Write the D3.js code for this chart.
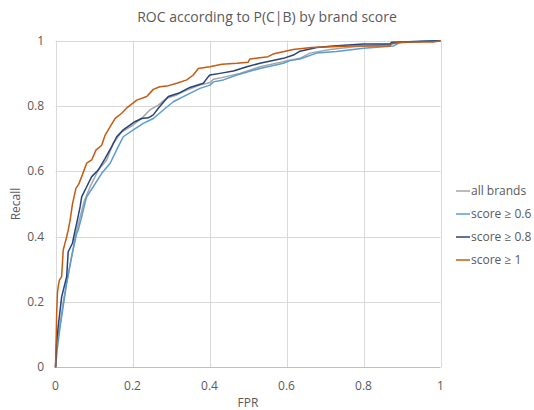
<!DOCTYPE html>
<html><head><meta charset="utf-8">
<script src="https://cdn.jsdelivr.net/npm/d3@7"></script>
<style>body{margin:0;background:#fff;} text{font-family:"Open Sans","Liberation Sans",sans-serif;}</style>
</head><body><svg id="c" width="534" height="410"></svg>
<script>
const seriesNames = ["all brands", "score \u2265 0.6", "score \u2265 0.8", "score \u2265 1"];
const seriesColors = ["#a5a5a5", "#5b9bd5", "#264478", "#c55a11"];
const xTicks = [0, 0.2, 0.4, 0.6, 0.8, 1];
const yTicks = [0, 0.2, 0.4, 0.6, 0.8, 1];
const allBrands = [[0,0],[0.004,0.08],[0.012,0.13],[0.02,0.2],[0.029,0.26],[0.042,0.34],[0.053,0.41],[0.066,0.47],[0.075,0.51],[0.09,0.553],[0.111,0.604],[0.133,0.635],[0.15,0.686],[0.172,0.721],[0.202,0.742],[0.228,0.767],[0.245,0.788],[0.267,0.803],[0.289,0.824],[0.315,0.834],[0.341,0.849],[0.375,0.864],[0.401,0.872],[0.41,0.882],[0.432,0.887],[0.479,0.9],[0.531,0.92],[0.592,0.936],[0.635,0.946],[0.661,0.962],[0.713,0.973],[0.782,0.982],[0.869,0.989],[0.895,0.996],[1,1]];
const score06 = [[0,0],[0.005,0.06],[0.012,0.125],[0.029,0.257],[0.042,0.339],[0.055,0.41],[0.059,0.42],[0.068,0.461],[0.077,0.505],[0.081,0.522],[0.098,0.553],[0.12,0.594],[0.142,0.625],[0.163,0.676],[0.176,0.706],[0.202,0.727],[0.228,0.747],[0.254,0.762],[0.28,0.788],[0.306,0.813],[0.341,0.834],[0.375,0.854],[0.401,0.864],[0.41,0.874],[0.436,0.88],[0.471,0.895],[0.531,0.915],[0.592,0.931],[0.609,0.939],[0.635,0.944],[0.678,0.962],[0.73,0.967],[0.8,0.977],[0.878,0.984],[0.895,0.994],[0.98,1],[1,1]];
const score08 = [[0,0],[0.003,0.08],[0.007,0.125],[0.016,0.216],[0.029,0.278],[0.033,0.354],[0.044,0.38],[0.051,0.42],[0.055,0.441],[0.064,0.492],[0.068,0.522],[0.081,0.553],[0.094,0.584],[0.111,0.604],[0.129,0.64],[0.146,0.676],[0.159,0.706],[0.176,0.727],[0.206,0.752],[0.224,0.762],[0.241,0.764],[0.254,0.773],[0.267,0.793],[0.293,0.829],[0.319,0.839],[0.349,0.857],[0.384,0.87],[0.397,0.89],[0.401,0.895],[0.427,0.9],[0.462,0.907],[0.497,0.92],[0.531,0.931],[0.592,0.946],[0.618,0.956],[0.635,0.968],[0.678,0.979],[0.722,0.984],[0.8,0.99],[0.869,0.99],[0.873,0.995],[1,1]];
const score1 = [[0,0],[0.002,0.1],[0.003,0.165],[0.005,0.227],[0.007,0.247],[0.01,0.267],[0.016,0.278],[0.02,0.359],[0.029,0.4],[0.033,0.42],[0.038,0.451],[0.044,0.5],[0.053,0.548],[0.06,0.56],[0.068,0.584],[0.081,0.625],[0.094,0.635],[0.105,0.665],[0.12,0.68],[0.129,0.711],[0.142,0.737],[0.155,0.762],[0.172,0.778],[0.187,0.796],[0.211,0.818],[0.237,0.829],[0.254,0.851],[0.271,0.859],[0.289,0.861],[0.315,0.87],[0.341,0.88],[0.358,0.895],[0.371,0.915],[0.401,0.92],[0.432,0.928],[0.471,0.931],[0.5,0.934],[0.505,0.944],[0.552,0.951],[0.565,0.959],[0.591,0.966],[0.617,0.973],[0.665,0.979],[0.769,0.984],[0.869,0.984],[0.873,0.991],[0.903,0.996],[0.981,0.996],[1,1]];
const seriesData = [allBrands, score06, score08, score1];

const svg = d3.select("#c");
const x = d3.scaleLinear().domain([0,1]).range([55.5,440.5]);
const y = d3.scaleLinear().domain([0,1]).range([367.4,40.7]);
const txt = "#595959";

svg.append("g").selectAll("line.v").data(xTicks).join("line")
  .attr("x1",d=>Math.round(x(d))+0.5).attr("x2",d=>Math.round(x(d))+0.5)
  .attr("y1",y(1)).attr("y2",y(0)).attr("stroke","#d9d9d9");
svg.append("g").selectAll("line.h").data(yTicks).join("line")
  .attr("y1",d=>Math.round(y(d))+0.5).attr("y2",d=>Math.round(y(d))+0.5)
  .attr("x1",x(0)).attr("x2",x(1)).attr("stroke",d=>d===0?"#bfbfbf":"#d9d9d9");

svg.append("g").selectAll("text").data(xTicks).join("text")
  .attr("x",d=>x(d)).attr("y",390).attr("text-anchor","middle")
  .attr("font-size",12).attr("fill",txt).text(d=>d3.format("")(d));
svg.append("g").selectAll("text").data(yTicks).join("text")
  .attr("x",44).attr("y",d=>y(d)+4).attr("text-anchor","end")
  .attr("font-size",12).attr("fill",txt).text(d=>d3.format("")(d));

const line = d3.line().x(d=>x(d[0])).y(d=>y(d[1]));
svg.append("g").selectAll("path").data(seriesData).join("path")
  .attr("d",line).attr("fill","none")
  .attr("stroke",(d,i)=>seriesColors[i]).attr("stroke-width",1.5).attr("stroke-linejoin","round");

svg.append("text").attr("x",267).attr("y",22).attr("text-anchor","middle")
  .attr("font-size",14).attr("fill",txt).text("ROC according to P(C|B) by brand score");
svg.append("text").attr("x",248).attr("y",407).attr("text-anchor","middle")
  .attr("font-size",12).attr("fill",txt).text("FPR");
svg.append("text").attr("transform","translate(20,204) rotate(-90)").attr("text-anchor","middle")
  .attr("font-size",12).attr("fill",txt).text("Recall");

const lg = svg.append("g").selectAll("g").data(seriesNames).join("g")
  .attr("transform",(d,i)=>`translate(456,${191+i*23})`);
lg.append("line").attr("x1",0).attr("x2",14).attr("y1",0).attr("y2",0)
  .attr("stroke",(d,i)=>seriesColors[i]).attr("stroke-width",1.5);
lg.append("text").attr("x",15).attr("y",4).attr("font-size",12).attr("fill",txt).text(d=>d);
</script></body></html>
